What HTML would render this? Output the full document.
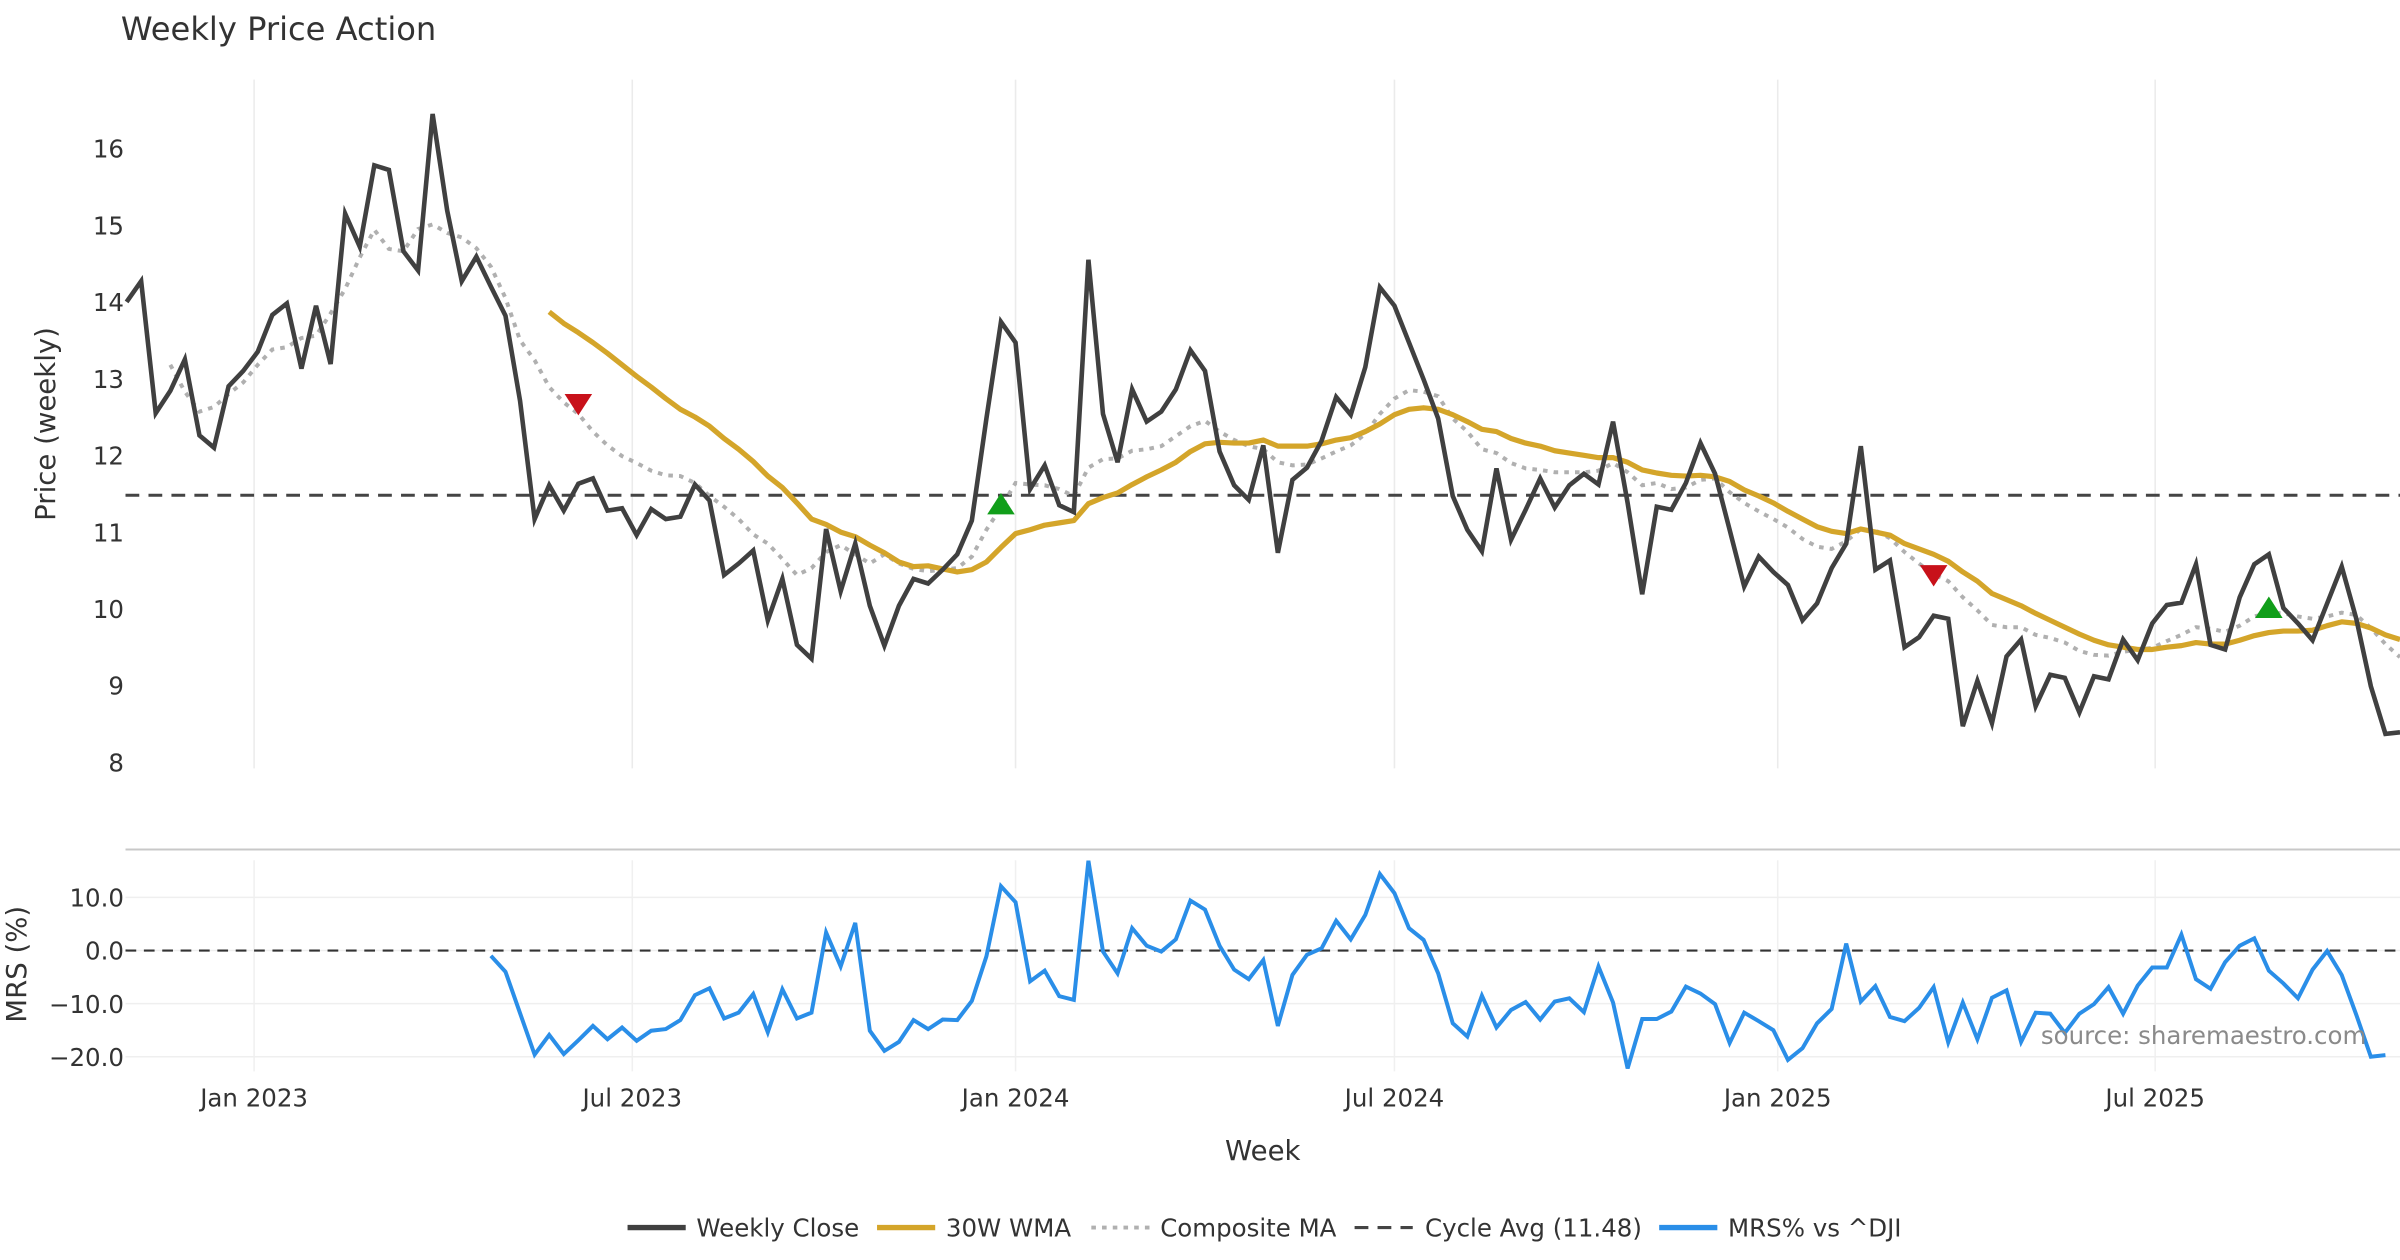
<!DOCTYPE html>
<html><head><meta charset="utf-8"><title>Weekly Price Action</title>
<style>
html,body{margin:0;padding:0;background:#fff;}
svg{display:block;font-family:"DejaVu Sans","Liberation Sans",sans-serif;}
</style></head>
<body>
<svg id="chart" width="2400" height="1260" viewBox="0 0 1568 823.2" preserveAspectRatio="none" xmlns="http://www.w3.org/2000/svg">
  <rect x="0" y="0" width="1568" height="823.2" fill="#fff"/>
  <text x="79" y="26" font-size="21" fill="#333">Weekly Price Action</text>
  <g id="grid"></g>
  <g id="yaxis"></g>
  <g id="mrsaxis"></g>
  <g id="xaxis"></g>
  <line x1="82" y1="555" x2="1568" y2="555" stroke="#c8c8c8" stroke-width="1.3"/>
  <g id="series"></g>
  <text x="0" y="0" transform="translate(36,277) rotate(-90)" text-anchor="middle" font-size="18" fill="#333">Price (weekly)</text>
  <text x="0" y="0" transform="translate(17,630) rotate(-90)" text-anchor="middle" font-size="18" fill="#333">MRS (%)</text>
  <text x="825" y="758" text-anchor="middle" font-size="18" fill="#333">Week</text>
  <text x="1546" y="682" text-anchor="end" font-size="16" fill="#8a8a8a">source: sharemaestro.com</text>
  <g>
    <g>
      <line x1="410" y1="802" x2="448" y2="802" stroke="#404040" stroke-width="3.5"/>
      <text x="455" y="808" font-size="16" fill="#333">Weekly Close</text>
    </g>
    <g>
      <line x1="573" y1="802" x2="611" y2="802" stroke="#d4a52a" stroke-width="3.5"/>
      <text x="618" y="808" font-size="16" fill="#333">30W WMA</text>
    </g>
    <g>
      <line x1="713" y1="802" x2="751" y2="802" stroke="#b0b0b0" stroke-width="2.5" stroke-dasharray="3,4"/>
      <text x="758" y="808" font-size="16" fill="#333">Composite MA</text>
    </g>
    <g>
      <line x1="885" y1="802" x2="923" y2="802" stroke="#444" stroke-width="2" stroke-dasharray="9,6"/>
      <text x="931" y="808" font-size="16" fill="#333">Cycle Avg (11.48)</text>
    </g>
    <g>
      <line x1="1084" y1="802" x2="1122" y2="802" stroke="#2a8ee8" stroke-width="3.5"/>
      <text x="1129" y="808" font-size="16" fill="#333">MRS% vs ^DJI</text>
    </g>
  </g>
</svg>
<script>
const closeVals=[14.0,14.27,12.55,12.84,13.25,12.26,12.1,12.9,13.1,13.35,13.83,13.98,13.13,13.95,13.19,15.15,14.72,15.78,15.72,14.66,14.41,16.45,15.19,14.27,14.59,14.2,13.82,12.71,11.17,11.61,11.28,11.63,11.7,11.28,11.31,10.96,11.3,11.17,11.2,11.62,11.41,10.44,10.59,10.76,9.85,10.39,9.53,9.35,11.04,10.23,10.85,10.04,9.52,10.04,10.39,10.33,10.51,10.71,11.15,12.48,13.74,13.47,11.56,11.87,11.35,11.26,14.55,12.54,11.91,12.86,12.44,12.57,12.86,13.37,13.1,12.05,11.61,11.42,12.13,10.73,11.68,11.84,12.19,12.76,12.53,13.15,14.19,13.95,13.47,12.99,12.48,11.47,11.03,10.75,11.83,10.9,11.29,11.7,11.32,11.61,11.76,11.62,12.44,11.38,10.19,11.33,11.29,11.64,12.16,11.76,11.03,10.29,10.68,10.48,10.31,9.85,10.07,10.53,10.85,12.12,10.51,10.63,9.5,9.63,9.91,9.87,8.47,9.06,8.51,9.38,9.6,8.73,9.14,9.1,8.65,9.12,9.08,9.6,9.33,9.81,10.05,10.08,10.58,9.53,9.47,10.15,10.58,10.71,10.01,9.81,9.59,10.07,10.55,9.87,8.99,8.37,8.39];
const wmaStart=29;
const wmaVals=[13.87,13.72,13.6,13.47,13.33,13.18,13.03,12.89,12.74,12.6,12.5,12.38,12.22,12.08,11.92,11.73,11.58,11.38,11.17,11.1,11.0,10.94,10.83,10.73,10.61,10.55,10.56,10.52,10.48,10.51,10.61,10.8,10.98,11.03,11.09,11.12,11.15,11.37,11.45,11.51,11.62,11.72,11.81,11.91,12.05,12.15,12.17,12.16,12.16,12.2,12.12,12.12,12.12,12.15,12.2,12.23,12.31,12.41,12.53,12.6,12.62,12.6,12.53,12.44,12.34,12.31,12.22,12.16,12.12,12.06,12.03,12.0,11.97,11.97,11.91,11.81,11.77,11.74,11.73,11.74,11.72,11.66,11.55,11.47,11.38,11.27,11.17,11.07,11.01,10.98,11.04,11.0,10.96,10.85,10.78,10.71,10.62,10.48,10.36,10.2,10.12,10.04,9.94,9.85,9.76,9.67,9.59,9.53,9.5,9.47,9.47,9.5,9.52,9.56,9.54,9.54,9.59,9.65,9.69,9.71,9.71,9.72,9.78,9.83,9.81,9.75,9.66,9.6];
const compStart=3;
const compVals=[13.18,12.83,12.57,12.63,12.8,12.95,13.18,13.38,13.41,13.53,13.56,13.85,14.17,14.58,14.94,14.69,14.66,14.95,15.01,14.9,14.84,14.7,14.46,14.05,13.5,13.24,12.89,12.69,12.54,12.31,12.13,11.99,11.9,11.8,11.74,11.73,11.64,11.47,11.33,11.17,10.97,10.85,10.65,10.44,10.53,10.74,10.83,10.71,10.59,10.71,10.59,10.52,10.49,10.51,10.53,10.68,11.03,11.32,11.64,11.62,11.61,11.56,11.47,11.84,11.95,11.96,12.06,12.08,12.12,12.25,12.38,12.45,12.31,12.2,12.12,12.08,11.91,11.87,11.88,11.96,12.05,12.13,12.28,12.54,12.74,12.85,12.83,12.77,12.48,12.31,12.08,12.03,11.9,11.83,11.81,11.78,11.78,11.78,11.8,11.9,11.78,11.61,11.64,11.56,11.58,11.68,11.7,11.52,11.38,11.27,11.17,11.06,10.91,10.81,10.78,10.88,11.04,11.02,10.92,10.74,10.59,10.45,10.36,10.15,9.98,9.79,9.76,9.76,9.66,9.62,9.56,9.45,9.4,9.39,9.44,9.47,9.49,9.58,9.66,9.76,9.74,9.7,9.78,9.9,9.95,9.94,9.9,9.87,9.9,9.95,9.92,9.75,9.54,9.37];
const mrsStart=25;
const mrsVals=[-1.0,-4.0,-11.8,-19.6,-15.9,-19.5,-16.9,-14.2,-16.7,-14.5,-17.0,-15.1,-14.8,-13.1,-8.4,-7.1,-12.8,-11.7,-8.2,-15.4,-7.3,-12.8,-11.7,3.4,-3.0,5.2,-15.1,-18.9,-17.2,-13.1,-14.8,-13.0,-13.1,-9.5,-1.1,12.1,9.1,-5.8,-3.8,-8.6,-9.3,16.9,-0.2,-4.3,4.2,0.9,-0.2,2.1,9.4,7.7,0.9,-3.6,-5.4,-1.8,-14.2,-4.6,-0.8,0.4,5.6,2.1,6.7,14.4,10.8,4.2,2.0,-4.3,-13.7,-16.2,-8.5,-14.5,-11.2,-9.7,-13.0,-9.6,-9.0,-11.6,-3.0,-9.8,-22.2,-12.9,-12.9,-11.5,-6.8,-8.1,-10.1,-17.4,-11.7,-13.3,-15.0,-20.6,-18.4,-13.7,-11.0,1.3,-9.6,-6.7,-12.5,-13.3,-10.8,-6.9,-17.3,-9.8,-16.7,-8.9,-7.5,-17.2,-11.7,-11.9,-15.5,-11.9,-10.1,-6.9,-11.9,-6.6,-3.2,-3.2,3.0,-5.4,-7.2,-2.2,0.9,2.3,-3.8,-6.2,-9.0,-3.6,-0.1,-4.6,-12.1,-20.0,-19.7];
const cycleAvg=11.48;
const signalIdx=[31,60,124,147];
const signalVal=[12.68,11.35,10.45,10.0];
const signalType=["sell","buy","sell","buy"];
const priceTicks=[8,9,10,11,12,13,14,15,16];
const mrsTicks=[10,0,-10,-20];
const mrsTickLabels=["10.0","0.0","\u221210.0","\u221220.0"];
const dateTickWeeks=[8.75,34.7,61.0,87.0,113.3,139.2];
const dateTickLabels=["Jan 2023","Jul 2023","Jan 2024","Jul 2024","Jan 2025","Jul 2025"];

const NS="http://www.w3.org/2000/svg";
const N=closeVals.length;
const X0=82.7,X1=1568;
function xs(i){return X0+i*(X1-X0)/(N-1);}
function ys(v){return 498-(v-8)*50.125;}
function ym(v){return 621-v*3.47;}
function mk(tag,attrs,parent){const e=document.createElementNS(NS,tag);for(const k in attrs)e.setAttribute(k,attrs[k]);parent.appendChild(e);return e;}
const grid=document.getElementById('grid'),ya=document.getElementById('yaxis'),ma=document.getElementById('mrsaxis'),xa=document.getElementById('xaxis'),ser=document.getElementById('series');

dateTickWeeks.forEach((w,k)=>{
  const x=xs(w);
  let l=mk('line',{x1:x,y1:52,x2:x,y2:502,stroke:'#ebebeb','stroke-width':1},grid);
  
  
  let l2=mk('line',{x1:x,y1:562,x2:x,y2:700,stroke:'#f0f0f0','stroke-width':1},grid);
  
  
  let t=mk('text',{x:x,y:723,'text-anchor':'middle','font-size':16,fill:'#333'},xa);
  t.textContent=dateTickLabels[k];
  
  
});
priceTicks.forEach(v=>{
  let t=mk('text',{x:81,y:ys(v)+6,'text-anchor':'end','font-size':16,fill:'#333'},ya);
  t.textContent=String(v);
  
  
});
mrsTicks.forEach((v,k)=>{
  let l=mk('line',{x1:82,y1:ym(v),x2:1568,y2:ym(v),stroke:'#efefef','stroke-width':1},grid);
  
  
  let t=mk('text',{x:81,y:ym(v)+6,'text-anchor':'end','font-size':16,fill:'#333'},ma);
  t.textContent=mrsTickLabels[k];
  
  
});

function path(vals,start,yf){return vals.map((v,k)=>(k?'L':'M')+xs(start+k).toFixed(2)+','+yf(v).toFixed(2)).join(' ');}

let cyc=mk('line',{x1:82,y1:ys(cycleAvg),x2:1568,y2:ys(cycleAvg),stroke:'#444','stroke-width':2,'stroke-dasharray':'9,6'},ser);


let zl=mk('line',{x1:82,y1:ym(0),x2:1568,y2:ym(0),stroke:'#333','stroke-width':1.4,'stroke-dasharray':'7,5'},ser);



let cp=mk('path',{d:path(compVals,compStart,ys),fill:'none',stroke:'#b0b0b0','stroke-width':2.6,'stroke-dasharray':'3,4'},ser);


let wp=mk('path',{d:path(wmaVals,wmaStart,ys),fill:'none',stroke:'#d4a52a','stroke-width':3.4,'stroke-linejoin':'round'},ser);


let bp=mk('path',{d:path(closeVals,0,ys),fill:'none',stroke:'#404040','stroke-width':3,'stroke-linejoin':'miter'},ser);


let mp=mk('path',{d:path(mrsVals,mrsStart,ym),fill:'none',stroke:'#2a8ee8','stroke-width':2.6},ser);



signalIdx.forEach((i,k)=>{
  const x=xs(i),y=ys(signalVal[k]);
  const d=signalType[k]==='buy'?`M${x-9},${y+6} L${x+9},${y+6} L${x},${y-8} Z`:`M${x-9},${y-6} L${x+9},${y-6} L${x},${y+8} Z`;
  let m=mk('path',{d:d,fill:signalType[k]==='buy'?'#119e1a':'#c8111a'},ser);
  
  
});
</script>
</body></html>
